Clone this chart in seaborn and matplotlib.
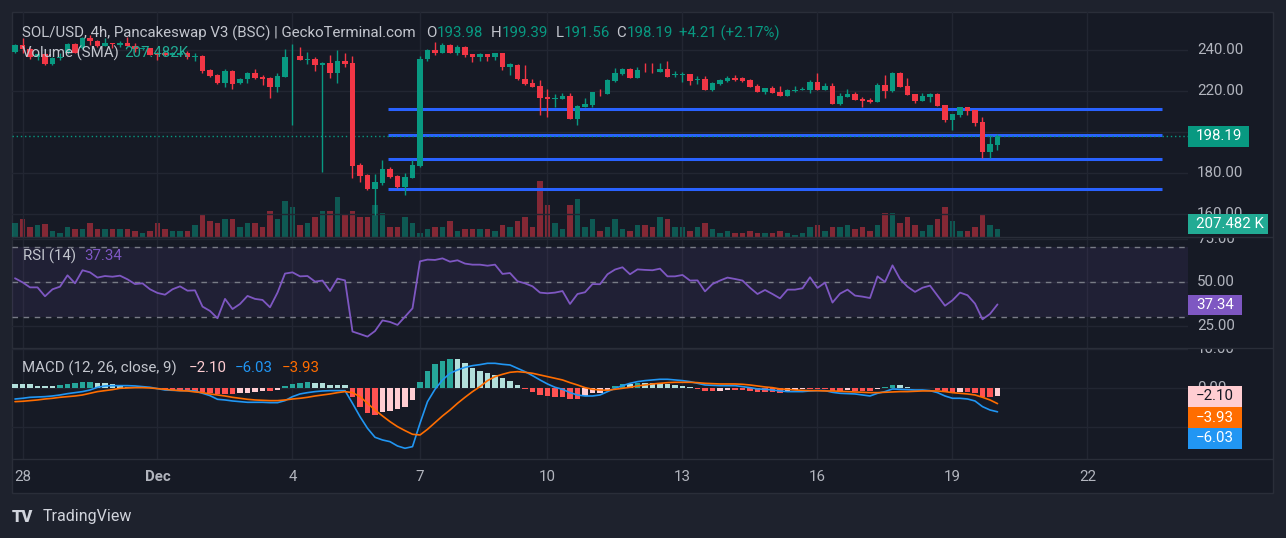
import numpy as np
import matplotlib
matplotlib.use("Agg")
import matplotlib.pyplot as plt
import matplotlib.transforms as mtransforms
from matplotlib.patches import Rectangle
from matplotlib.lines import Line2D
from matplotlib.colors import to_rgba
import seaborn as sns

# ---- data (4h candles, SOL/USD) ----
opens = [239.4, 242.6, 240.5, 236.5, 238.2, 233.2, 236.1, 238.5, 243.1, 241.0,
         245.9, 244.7, 242.3, 243.4, 242.6, 243.4, 242.1, 240.6, 241.0, 238.5,
         238.5, 237.7, 237.7, 238.5, 236.9, 237.2, 230.4, 228.0, 223.9, 230.1,
         223.9, 225.9, 229.1, 226.8, 226.3, 222.3, 227.2, 236.6, 237.2, 235.3,
         235.6, 233.0, 233.7, 229.1, 234.8, 233.7, 184.1, 179.2, 172.2, 175.5,
         182.0, 178.9, 173.5, 177.9, 183.7, 235.6, 240.2, 238.9, 242.6, 238.5,
         241.8, 238.2, 236.9, 238.2, 236.9, 238.5, 231.7, 232.8, 226.0, 224.2,
         222.6, 217.4, 216.1, 216.3, 217.7, 206.5, 212.2, 213.3, 219.8, 218.7,
         225.0, 228.3, 230.9, 226.7, 230.6, 230.6, 229.6, 230.9, 227.8, 228.0,
         228.5, 225.6, 225.9, 220.7, 223.6, 225.2, 226.7, 226.3, 225.5, 222.6,
         219.8, 221.5, 219.8, 217.9, 220.2, 220.8, 220.7, 224.7, 220.7, 222.6,
         213.8, 217.4, 218.7, 216.3, 215.8, 215.0, 223.1, 220.2, 229.1, 222.6,
         218.7, 215.4, 217.4, 218.7, 213.3, 206.0, 208.5, 212.2, 210.9, 204.9,
         190.6, 193.98]
highs = [243.2, 245.8, 241.0, 238.5, 238.5, 236.5, 238.5, 243.5, 243.5, 246.5,
         247.5, 245.0, 245.8, 243.4, 244.7, 246.7, 243.4, 241.5, 241.3, 239.3,
         239.0, 239.0, 239.5, 239.7, 238.9, 237.7, 230.7, 228.2, 230.7, 230.4,
         226.5, 229.6, 230.7, 228.0, 227.2, 229.1, 240.7, 243.1, 241.5, 239.0,
         236.9, 234.5, 237.7, 240.2, 238.5, 237.2, 184.9, 179.5, 179.7, 186.5,
         183.3, 179.2, 180.0, 186.5, 237.2, 240.5, 243.9, 243.4, 243.0, 242.6,
         242.3, 238.2, 238.9, 238.2, 238.9, 238.5, 233.7, 233.2, 232.8, 225.9,
         225.5, 221.0, 218.7, 219.0, 219.0, 213.3, 216.6, 219.8, 221.0, 226.0,
         231.5, 231.2, 231.2, 231.7, 233.7, 233.7, 234.0, 234.8, 229.9, 229.3,
         228.5, 227.6, 227.5, 224.7, 225.9, 227.6, 228.0, 226.8, 225.9, 223.6,
         221.5, 222.6, 222.6, 221.0, 222.6, 222.3, 225.5, 229.1, 224.2, 224.2,
         219.0, 221.0, 219.5, 217.4, 216.9, 224.2, 228.0, 229.3, 229.3, 226.7,
         218.7, 219.3, 219.3, 219.0, 213.3, 208.9, 212.2, 212.2, 210.9, 207.3,
         198.7, 199.39]
lows = [238.9, 238.5, 236.0, 235.3, 232.8, 232.8, 235.3, 238.0, 238.5, 240.8,
        242.6, 241.8, 242.3, 241.0, 241.8, 242.1, 239.3, 240.0, 237.5, 235.3,
        237.0, 237.5, 237.2, 235.6, 234.8, 229.1, 226.9, 223.7, 222.0, 221.0,
        223.5, 224.2, 226.0, 223.1, 216.9, 219.8, 226.8, 203.6, 235.3, 233.3,
        230.1, 180.8, 226.7, 224.2, 231.7, 177.9, 175.9, 171.8, 159.5, 174.1,
        177.6, 173.0, 169.6, 177.6, 183.3, 235.0, 237.7, 238.5, 238.5, 237.7,
        236.9, 234.5, 235.0, 235.0, 235.3, 230.4, 228.0, 225.5, 223.1, 222.0,
        208.5, 207.6, 212.2, 216.1, 206.5, 203.6, 212.2, 212.5, 217.9, 218.5,
        224.4, 228.0, 226.5, 226.7, 229.6, 228.8, 229.6, 227.2, 227.2, 224.7,
        223.1, 223.6, 220.7, 220.2, 223.3, 224.4, 225.2, 224.7, 222.0, 219.8,
        218.7, 219.0, 217.9, 217.6, 219.8, 220.7, 219.3, 220.7, 220.5, 213.8,
        213.3, 217.4, 215.8, 212.5, 214.1, 215.0, 216.9, 219.9, 222.0, 218.2,
        214.5, 215.4, 215.0, 212.8, 205.2, 201.1, 207.6, 208.5, 203.3, 187.6,
        187.3, 191.56]
closes = [242.6, 240.5, 236.5, 238.2, 233.2, 236.1, 236.9, 243.1, 238.9, 245.9,
          244.7, 242.3, 243.4, 242.9, 243.4, 242.1, 240.6, 241.0, 237.7, 237.7,
          237.7, 238.5, 238.9, 236.9, 237.2, 229.9, 227.6, 223.9, 230.1, 223.6,
          226.0, 229.1, 226.7, 226.0, 222.3, 227.5, 236.6, 236.9, 235.3, 235.6,
          232.8, 233.7, 229.1, 234.8, 233.2, 183.6, 178.9, 172.2, 175.8, 182.0,
          178.4, 173.5, 178.2, 184.1, 235.6, 240.2, 238.9, 242.6, 238.9, 241.5,
          237.7, 236.9, 238.2, 236.9, 238.5, 231.7, 233.2, 225.9, 223.6, 222.3,
          216.9, 216.1, 216.9, 217.9, 206.5, 212.8, 213.8, 219.8, 219.5, 225.5,
          229.1, 230.9, 226.7, 230.4, 230.2, 230.2, 230.9, 227.2, 228.3, 228.5,
          225.0, 226.0, 220.7, 224.2, 225.5, 226.7, 225.5, 225.2, 222.3, 219.8,
          221.5, 219.3, 217.9, 220.7, 220.5, 221.1, 224.7, 220.7, 222.6, 213.8,
          217.7, 218.7, 215.8, 215.3, 215.0, 223.1, 220.2, 229.1, 222.3, 218.2,
          215.4, 217.7, 218.7, 213.0, 206.0, 208.9, 212.2, 210.4, 204.7, 190.6,
          194.1, 198.19]
volumes_k = [273, 338, 176, 215, 240, 117, 78, 195, 137, 156,
             254, 156, 137, 156, 137, 156, 117, 59, 98, 273,
             137, 117, 98, 98, 215, 410, 293, 273, 351, 332,
             195, 254, 273, 195, 507, 351, 702, 566, 215, 273,
             390, 488, 507, 780, 410, 488, 390, 390, 624, 449,
             176, 195, 390, 254, 59, 156, 195, 195, 293, 98,
             156, 156, 156, 137, 98, 215, 195, 293, 371, 176,
             1073, 605, 254, 156, 624, 741, 176, 332, 98, 176,
             332, 156, 98, 215, 215, 176, 371, 351, 195, 176,
             117, 195, 273, 156, 59, 98, 78, 59, 98, 78,
             59, 59, 98, 59, 39, 59, 176, 234, 98, 176,
             176, 215, 137, 176, 117, 234, 449, 468, 254, 371,
             215, 98, 234, 332, 585, 312, 117, 117, 195, 410,
             215, 156]
rsi = [52.3, 50.0, 47.1, 47.1, 42.0, 46.0, 47.5, 54.0, 49.4, 56.9,
       55.7, 52.7, 53.6, 53.2, 53.8, 51.7, 49.0, 49.4, 46.0, 43.9,
       42.9, 46.0, 47.7, 45.2, 45.4, 36.1, 33.6, 29.4, 40.5, 34.7,
       37.6, 42.2, 40.5, 39.9, 35.7, 44.1, 55.0, 55.7, 53.4, 53.6,
       50.4, 51.0, 45.0, 52.1, 51.1, 21.8, 20.4, 18.9, 22.1, 28.2,
       27.3, 25.6, 30.3, 35.1, 62.0, 63.0, 62.8, 63.7, 61.8, 62.6,
       60.7, 60.1, 60.1, 59.5, 60.1, 54.8, 55.3, 50.6, 49.4, 47.7,
       44.1, 43.7, 44.1, 45.0, 37.6, 43.3, 44.3, 49.0, 48.9, 54.6,
       57.3, 58.6, 54.6, 57.4, 57.1, 56.9, 57.8, 53.4, 53.4, 54.2,
       51.0, 51.1, 44.8, 49.0, 51.0, 52.7, 51.9, 51.0, 46.9, 43.3,
       45.6, 43.3, 40.8, 45.8, 45.8, 46.6, 52.9, 46.8, 49.8, 38.4,
       43.5, 45.8, 42.4, 41.8, 41.0, 53.4, 50.2, 59.7, 51.9, 47.5,
       44.5, 46.9, 48.1, 42.4, 36.6, 39.7, 44.1, 42.6, 37.8, 28.8,
       31.9, 37.34]
macd = [-2.74, -2.56, -2.31, -2.22, -2.14, -1.97, -1.71, -1.37, -1.11, -0.85,
        -0.43, 0.26, 0.60, 0.68, 0.68, 0.68, 0.60, 0.43, 0.26, -0.09,
        -0.43, -0.51, -0.60, -0.60, -0.68, -1.28, -1.88, -2.82, -2.99, -3.25,
        -3.42, -3.59, -3.59, -3.59, -3.68, -3.68, -3.16, -2.14, -1.45, -1.11,
        -0.85, -0.68, -0.60, -0.60, -0.60, -3.85, -7.26, -10.26, -12.56, -13.25,
        -13.68, -14.79, -15.38, -14.96, -8.97, -3.42, -0.26, 2.14, 3.85, 4.70,
        5.38, 5.81, 6.07, 6.41, 6.41, 6.15, 5.98, 5.13, 4.27, 3.25,
        2.14, 1.11, 0.26, -0.26, -1.11, -1.71, -1.97, -1.97, -1.71, -0.85,
        0.00, 0.68, 1.28, 1.71, 1.97, 2.14, 2.31, 2.31, 2.14, 1.97,
        1.71, 1.28, 0.85, 0.77, 0.68, 0.68, 0.68, 0.43, 0.17, -0.17,
        -0.26, -0.43, -0.68, -0.85, -0.85, -0.85, -0.68, -0.60, -0.60, -1.03,
        -1.28, -1.37, -1.45, -1.71, -1.97, -1.28, -0.85, -0.17, -0.26, -0.34,
        -0.43, -0.43, -0.60, -1.11, -1.97, -2.56, -2.56, -2.74, -3.25, -4.70,
        -5.56, -6.03]
signal = [-3.42, -3.33, -3.16, -2.99, -2.74, -2.56, -2.31, -2.14, -1.97, -1.71,
          -1.28, -0.85, -0.60, -0.34, 0.00, 0.09, 0.17, 0.17, 0.09, -0.09,
          -0.26, -0.43, -0.60, -0.68, -0.94, -1.11, -1.45, -1.71, -1.97, -2.31,
          -2.56, -2.82, -2.99, -3.08, -3.16, -3.16, -2.99, -2.74, -2.56, -2.31,
          -1.97, -1.71, -1.45, -1.11, -0.85, -1.11, -2.14, -3.85, -5.56, -7.09,
          -8.55, -9.83, -10.85, -11.79, -11.97, -10.51, -8.80, -7.09, -5.56, -3.85,
          -2.31, -0.85, 0.43, 1.97, 2.99, 3.59, 4.10, 4.27, 4.10, 3.85,
          3.42, 2.99, 2.56, 2.14, 1.45, 0.85, 0.17, -0.26, -0.43, -0.51,
          -0.26, 0.00, 0.26, 0.60, 0.85, 1.11, 1.28, 1.45, 1.54, 1.54,
          1.54, 1.45, 1.28, 1.20, 1.11, 1.11, 1.11, 1.03, 0.85, 0.60,
          0.34, 0.17, -0.17, -0.26, -0.43, -0.51, -0.60, -0.60, -0.68, -0.68,
          -0.77, -0.85, -0.94, -1.03, -1.11, -1.11, -1.03, -0.94, -0.85, -0.85,
          -0.77, -0.68, -0.68, -0.68, -0.85, -1.11, -1.28, -1.45, -1.71, -2.31,
          -2.99, -3.93]
hist = [1.11, 1.11, 1.11, 0.60, 0.51, 0.51, 0.85, 1.11, 1.28, 1.54,
        1.71, 1.45, 1.28, 1.03, 0.68, 0.43, 0.43, 0.34, 0.17, -0.26,
        -0.26, -0.43, -0.60, -0.68, -0.85, -1.03, -1.28, -1.45, -1.54, -1.54,
        -1.28, -1.11, -0.85, -0.77, -0.77, -0.43, 0.60, 1.11, 1.37, 1.62,
        1.45, 1.45, 0.85, 0.85, 0.85, -2.31, -4.70, -6.24, -6.84, -5.98,
        -5.73, -5.30, -4.70, -2.99, 1.71, 4.53, 6.24, 7.09, 7.52, 7.52,
        6.58, 5.30, 4.44, 4.02, 3.50, 2.74, 1.88, 0.85, -0.26, -0.85,
        -1.71, -1.88, -2.14, -2.14, -2.74, -2.74, -1.88, -1.28, -1.11, -0.43,
        0.60, 1.11, 1.11, 1.45, 1.45, 1.45, 1.28, 1.11, 0.85, 0.60,
        0.34, -0.17, -0.68, -0.68, -0.60, -0.43, -0.43, -0.43, -0.68, -1.03,
        -1.03, -1.03, -1.20, -0.85, -0.43, -0.26, -0.26, -0.26, -0.26, -0.68,
        -0.68, -0.43, -0.68, -0.68, -0.68, -0.17, 0.43, 0.85, 0.85, 0.43,
        0.17, 0.05, 0.17, -0.43, -1.03, -1.28, -0.85, -0.85, -1.28, -2.14,
        -2.31, -2.10]

day_ticks = [1, 19, 37, 54, 71, 89, 107, 125, 143]
day_labels = ["28", "Dec", "4", "7", "10", "13", "16", "19", "22"]
price_grid = [160, 180, 200, 220, 240]
price_labels = [160, 180, 220, 240]      # 200.00 sits under the last-price tag
rsi_ticks = [25, 50, 75]
macd_grid = [-10, 0, 10]
macd_labels = [0, 10]                    # -10.00 sits under the value tags
level_prices = [211.2, 198.9, 187.2, 172.2]
level_from, level_to = 49.7, 152.9
last_price = 198.19

# ---- style ----
W, H = 1286, 538
OUTER = "#1e222d"
PANE = "#161a25"
BORDER = "#2a2e39"
GRID = "#222632"
TXT = "#b2b5be"
LEG = "#c3c6ce"
UP, DOWN = "#089981", "#f23645"
FS = 10.8

sns.set_style("dark")
plt.rcParams["font.family"] = ["Roboto", "DejaVu Sans"]
plt.rcParams["axes.unicode_minus"] = True

fig = plt.figure(figsize=(W / 100, H / 100), dpi=100, facecolor=OUTER)


def rect(x0, y0, x1, y1):
    return [x0 / W, 1 - y1 / H, (x1 - x0) / W, (y1 - y0) / H]


def fx(x):
    return x / W


def fy(y):
    return 1 - y / H


fig.add_artist(Rectangle((fx(12), fy(493)), (1273 - 12) / W, (493 - 12) / H,
                         transform=fig.transFigure, fc=PANE, ec=BORDER, lw=1, zorder=-5))

PL, PR = 12, 1188
xlim = ((PL - 15) / 7.5, (PR - 15) / 7.5)
idx = np.arange(len(closes))


def style_pane(ax, ylim, yticks):
    ax.set_facecolor("none")
    ax.set_xlim(*xlim)
    ax.set_ylim(*ylim)
    ax.set_xticks(day_ticks)
    ax.set_yticks(yticks)
    ax.grid(True, color=GRID, lw=1)
    ax.tick_params(length=0, labelleft=False, labelbottom=False)
    for s in ax.spines.values():
        s.set_visible(False)


# ---- price pane ----
p_top, p_bot = 12, 236.5
p_lim = (240 - (p_bot - 50.3) / 2.05, 240 - (p_top - 50.3) / 2.05)
ax_v = fig.add_axes(rect(PL, p_top, PR, p_bot))
ax_p = fig.add_axes(rect(PL, p_top, PR, p_bot))
style_pane(ax_p, p_lim, price_grid)
ax_v.set_facecolor("none")
ax_v.set_xlim(*xlim)
ax_v.set_ylim(0, (p_bot - p_top) * 19.5)
ax_v.axis("off")

o, h, l, c = map(np.array, (opens, highs, lows, closes))
up = c >= o
ccol = np.where(up, UP, DOWN)
vcol = [to_rgba(UP, 0.5) if u else to_rgba(DOWN, 0.5) for u in up]
ax_v.bar(idx, volumes_k, width=0.68, color=vcol, lw=0)

ax_p.hlines(level_prices, level_from, level_to, color="#2962ff", lw=2.2, zorder=1)
ax_p.axhline(last_price, color=UP, lw=1, ls=(0, (1, 2)), zorder=1)
ax_p.vlines(idx, l, h, colors=ccol, lw=1, zorder=2)
ax_p.bar(idx, np.maximum(np.abs(c - o), 0.35), bottom=np.minimum(o, c),
         width=0.68, color=ccol, lw=0, zorder=3)

# ---- RSI pane ----
r_top, r_bot = 236.5, 347.7
r_lim = (50 - (r_bot - 282.3) / 1.747, 50 + (282.3 - r_top) / 1.747)
ax_r = fig.add_axes(rect(PL, r_top, PR, r_bot))
style_pane(ax_r, r_lim, rsi_ticks)
ax_r.axhspan(30, 70, color="#7e57c2", alpha=0.1, lw=0)
for lv in (70, 50, 30):
    ax_r.axhline(lv, color="#787b86", lw=1, ls=(0, (4, 4)))
sns.lineplot(x=idx, y=rsi, ax=ax_r, color="#7e57c2", lw=1.3)
ax_r.set_xlabel("")
ax_r.set_ylabel("")

# ---- MACD pane ----
m_top, m_bot = 347.7, 459
m_lim = (-(m_bot - 388.3) / 3.9, (388.3 - m_top) / 3.9)
ax_m = fig.add_axes(rect(PL, m_top, PR, m_bot))
style_pane(ax_m, m_lim, macd_grid)
hv = np.array(hist)
prev = np.r_[hv[0], hv[:-1]]
hcol = np.where(hv >= 0, np.where(hv > prev, "#26a69a", "#b2dfdb"),
                np.where(hv > prev, "#ffcdd2", "#ff5252"))
ax_m.bar(idx, hv, width=0.72, color=hcol, lw=0)
sns.lineplot(x=idx, y=macd, ax=ax_m, color="#2196f3", lw=1.2)
sns.lineplot(x=idx, y=signal, ax=ax_m, color="#ff6d00", lw=1.2)
ax_m.set_xlabel("")
ax_m.set_ylabel("")

# pane separators
for yy in (r_top, r_bot, m_bot):
    fig.add_artist(Line2D([fx(12), fx(1273)], [fy(yy)] * 2, color=BORDER, lw=1))


# ---- right price scales ----
def scale_axis(top, bot, lim, ticks):
    sa = fig.add_axes(rect(PR, top, 1273, bot))
    sa.set_ylim(*lim)
    sa.axis("off")
    tr = mtransforms.blended_transform_factory(sa.transAxes, sa.transData)
    for t in ticks:
        sa.text((1197 - PR) / (1273 - PR), t, f"{t:.2f}".replace("-", "\u2212"),
                transform=tr, color=TXT, fontsize=FS, va="center", ha="left", clip_on=True)


scale_axis(p_top, p_bot, p_lim, price_labels)
scale_axis(r_top, r_bot, r_lim, rsi_ticks)
scale_axis(m_top, m_bot, m_lim, macd_labels)


def tag(x0, y0, x1, y1, fc, text, tc="white"):
    fig.add_artist(Rectangle((fx(x0), fy(y1)), (x1 - x0) / W, (y1 - y0) / H,
                             transform=fig.transFigure, fc=fc, ec="none", zorder=10))
    fig.text(fx(x0 + 8), fy((y0 + y1) / 2), text, color=tc, fontsize=FS,
             va="center", ha="left", zorder=11)


tag(1188, 126, 1249, 146.5, UP, "198.19")
tag(1188, 214, 1268, 234, "#22ab94", "207.482 K")
tag(1188, 294.5, 1242, 315, "#7e57c2", "37.34")
tag(1188, 386, 1242, 407, "#ffcdd2", "\u22122.10", "#131722")
tag(1188, 407, 1242, 428, "#ff6d00", "\u22123.93")
tag(1188, 428, 1242, 449, "#2196f3", "\u22126.03")

# ---- time axis ----
for t, lab in zip(day_ticks, day_labels):
    fig.text(fx(15 + 7.5 * t), fy(477), lab, color=TXT, fontsize=FS, ha="center",
             va="center", fontweight="bold" if lab == "Dec" else "normal")


# ---- legends ----
def pieces(y, items):
    for x, s, col in items:
        fig.text(fx(x), fy(y), s, color=col, fontsize=FS, va="center", ha="left", zorder=6)


pieces(33, [(22, "SOL/USD, 4h, Pancakeswap V3 (BSC) | GeckoTerminal.com", LEG),
            (426, "O", LEG), (437, "193.98", UP),
            (491, "H", LEG), (502, "199.39", UP),
            (556, "L", LEG), (564, "191.56", UP),
            (616, "C", LEG), (627, "198.19", UP),
            (679, "+4.21 (+2.17%)", UP)])
pieces(53, [(22, "Volume (SMA)", LEG), (124, "207.482K", "#22ab94")])
pieces(256, [(23, "RSI (14)", LEG), (84, "37.34", "#7e57c2")])
pieces(368, [(22, "MACD (12, 26, close, 9)", LEG), (189, "\u22122.10", "#ffcdd2"),
             (235, "\u22126.03", "#2196f3"), (282, "\u22123.93", "#ff6d00")])

fig.text(fx(12), fy(517), "TV", color="#d1d4dc", fontsize=12, fontweight="heavy",
         va="center", ha="left")
fig.text(fx(43), fy(517), "TradingView", color="#d1d4dc", fontsize=11.5,
         va="center", ha="left")

fig.savefig("out.png", dpi=100, facecolor=OUTER)
